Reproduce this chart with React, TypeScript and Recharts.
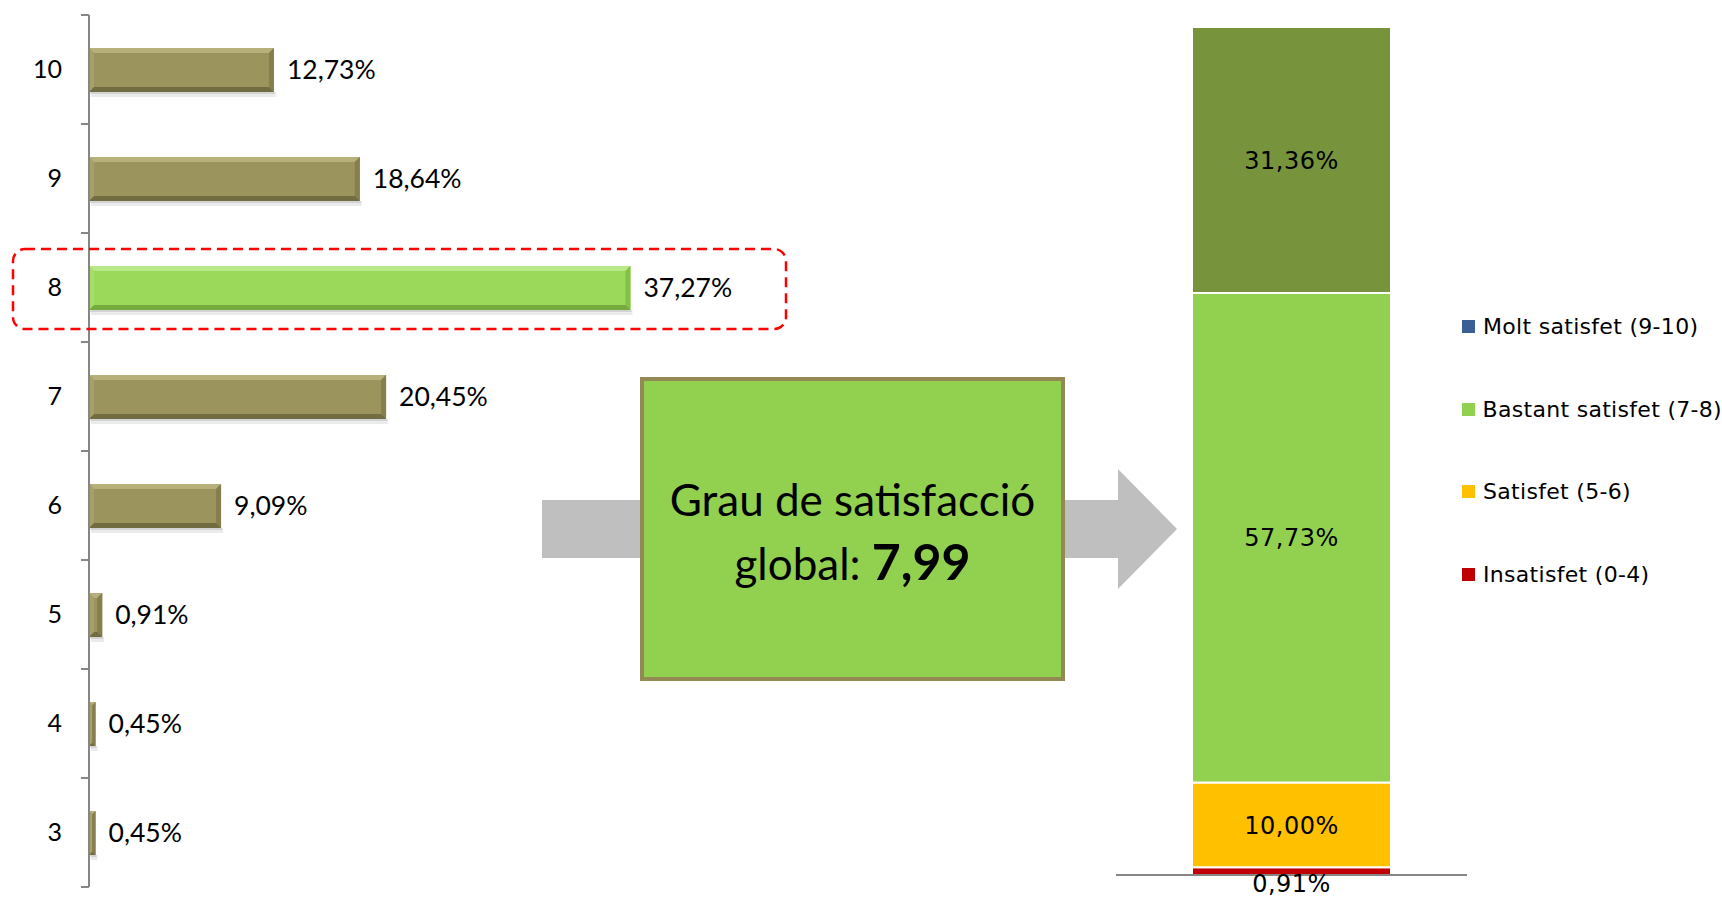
import { BarChart, Bar, XAxis, YAxis, LabelList, Legend, ReferenceLine } from "recharts";

// left chart: share of answers per score
const scores = ["10", "9", "8", "7", "6", "5", "4", "3"];
const shares = [12.73, 18.64, 37.27, 20.45, 9.09, 0.91, 0.45, 0.45];
const highlighted = "8";

// right chart: grouped satisfaction levels (top to bottom)
const groups = ["Molt satisfet (9-10)", "Bastant satisfet (7-8)", "Satisfet (5-6)", "Insatisfet (0-4)"];
const groupShares = [31.36, 57.73, 10.0, 0.91];
const groupColors = ["#77933C", "#92D050", "#FFC000", "#C00000"];
const legendColors = ["#3A5F94", "#92D050", "#FFC000", "#C00000"];

const globalScore = "7,99";

const scoreData = scores.map((score, i) => ({ score, share: shares[i] }));
const groupRow: Record<string, number | string> = { name: "Total" };
groups.forEach((g, i) => {
  groupRow["g" + i] = groupShares[i];
});
const groupData = [groupRow];

const pct = (v: number) => v.toFixed(2).replace(".", ",") + "%";

const LATO = "Lato, 'Open Sans', sans-serif";
const WIDE = "'DejaVu Sans', Verdana, sans-serif";
const BAND = 109;

const olive = { base: "#9C945D", top: "#B8B07A", left: "#A8A06A", right: "#867E4C", bottom: "#726C43" };
const green = { base: "#9BD95A", top: "#B8E887", left: "#A6DE6C", right: "#82C046", bottom: "#74AA3E" };

function BevelBar(props: any) {
  const { x, y, width, height, payload } = props;
  if (!width || width <= 0) return null;
  const c = payload.score === highlighted ? green : olive;
  const b = Math.min(5, width / 2, height / 2);
  const r = x + width;
  const btm = y + height;
  return (
    <g>
      <rect x={x + 2} y={btm} width={width} height={5} fill="#000" opacity={0.08} />
      <rect x={x + 1} y={btm} width={width} height={2} fill="#000" opacity={0.1} />
      <rect x={x} y={y} width={width} height={height} fill={c.base} />
      <polygon points={`${x},${y} ${r},${y} ${r - b},${y + b} ${x + b},${y + b}`} fill={c.top} />
      <polygon points={`${x},${y} ${x + b},${y + b} ${x + b},${btm - b} ${x},${btm}`} fill={c.left} />
      <polygon points={`${r},${y} ${r},${btm} ${r - b},${btm - b} ${r - b},${y + b}`} fill={c.right} />
      <polygon points={`${x},${btm} ${r},${btm} ${r - b},${btm - b} ${x + b},${btm - b}`} fill={c.bottom} />
    </g>
  );
}

function ScoreTick(props: any) {
  const { x, y, payload, index } = props;
  const half = BAND / 2;
  return (
    <g>
      <line x1={x - 8} x2={x} y1={y - half} y2={y - half} stroke="#868686" strokeWidth={2} />
      {index === scores.length - 1 && (
        <line x1={x - 8} x2={x} y1={y + half} y2={y + half} stroke="#868686" strokeWidth={2} />
      )}
      <text x={x - 27} y={y} dy="0.35em" textAnchor="end" fontSize={25} fontFamily={LATO} fill="#000">
        {payload.value}
      </text>
    </g>
  );
}

function StackLabel(props: any) {
  const { x, y, width, height, value } = props;
  const cy = height < 20 ? y + height / 2 + 12 : y + height / 2;
  return (
    <text
      x={x + width / 2}
      y={cy}
      dy="0.36em"
      textAnchor="middle"
      fontSize={24}
      letterSpacing={0.5}
      fontFamily={WIDE}
      fill="#000"
    >
      {pct(Number(value))}
    </text>
  );
}

function GroupLegend() {
  return (
    <div style={{ fontFamily: WIDE, fontSize: 22, letterSpacing: 0.3, color: "#000" }}>
      {groups.map((g, i) => (
        <div key={g} style={{ height: 82.7, display: "flex", alignItems: "center", whiteSpace: "nowrap" }}>
          <span style={{ width: 13, height: 13, background: legendColors[i], marginRight: 8, display: "inline-block" }} />
          {g}
        </div>
      ))}
    </div>
  );
}

export default function App() {
  return (
    <div style={{ position: "relative", width: 1722, height: 897, background: "#fff", overflow: "hidden" }}>
      <style>{`body{margin:0}`}</style>

      <div style={{ position: "absolute", left: 0, top: 0 }}>
        <BarChart
          width={800}
          height={897}
          data={scoreData}
          layout="vertical"
          margin={{ top: 15, right: 127, bottom: 10, left: 0 }}
        >
          <XAxis type="number" domain={[0, 40.2]} hide />
          <YAxis
            type="category"
            dataKey="score"
            width={89}
            axisLine={{ stroke: "#868686", strokeWidth: 2 }}
            tickLine={false}
            tickSize={0}
            tickMargin={0}
            tick={<ScoreTick />}
            interval={0}
          />
          <Bar dataKey="share" barSize={44} shape={<BevelBar />} isAnimationActive={false}>
            <LabelList
              dataKey="share"
              position="right"
              offset={13}
              formatter={(v: any) => pct(Number(v))}
              fill="#000"
              fontSize={26.5}
              fontFamily={LATO}
            />
          </Bar>
        </BarChart>
      </div>

      <svg style={{ position: "absolute", left: 0, top: 0 }} width={1722} height={897}>
        <rect
          x={13}
          y={249}
          width={773}
          height={80}
          rx={12}
          fill="none"
          stroke="#FF0000"
          strokeWidth={2.5}
          strokeDasharray="10 6"
        />
        <polygon
          points="542,500 1118,500 1118,469 1177,529 1118,589 1118,558 542,558"
          fill="#BFBFBF"
        />
      </svg>

      <div
        style={{
          position: "absolute",
          left: 640,
          top: 377,
          width: 425,
          height: 304,
          boxSizing: "border-box",
          border: "4px solid #938953",
          background: "#92D050",
          display: "flex",
          flexDirection: "column",
          alignItems: "center",
          justifyContent: "center",
          fontFamily: LATO,
          fontSize: 44,
          color: "#000",
          lineHeight: "62px",
          paddingTop: 4,
        }}
      >
        <div>Grau de satisfacció</div>
        <div>
          global: <span style={{ fontWeight: 700, fontSize: 50 }}>{globalScore}</span>
        </div>
      </div>

      <div style={{ position: "absolute", left: 1116, top: 0 }}>
        <BarChart
          width={606}
          height={897}
          data={groupData}
          margin={{ top: 27, right: 255, bottom: 22, left: 0 }}
        >
          <XAxis type="category" dataKey="name" hide />
          <YAxis type="number" domain={[0, 100]} hide />
          {groups
            .map((g, i) => ({ g, i }))
            .reverse()
            .map(({ g, i }) => (
              <Bar
                key={g}
                dataKey={"g" + i}
                name={g}
                stackId="a"
                barSize={199}
                fill={groupColors[i]}
                stroke="#fff"
                strokeWidth={2}
                isAnimationActive={false}
              >
                <LabelList dataKey={"g" + i} content={<StackLabel />} />
              </Bar>
            ))}
          <ReferenceLine y={0} stroke="#868686" strokeWidth={2} />
          <Legend
            layout="vertical"
            align="center"
            verticalAlign="middle"
            content={<GroupLegend />}
            wrapperStyle={{ left: 346, top: 285, width: 260, height: 340 }}
          />
        </BarChart>
      </div>
    </div>
  );
}
